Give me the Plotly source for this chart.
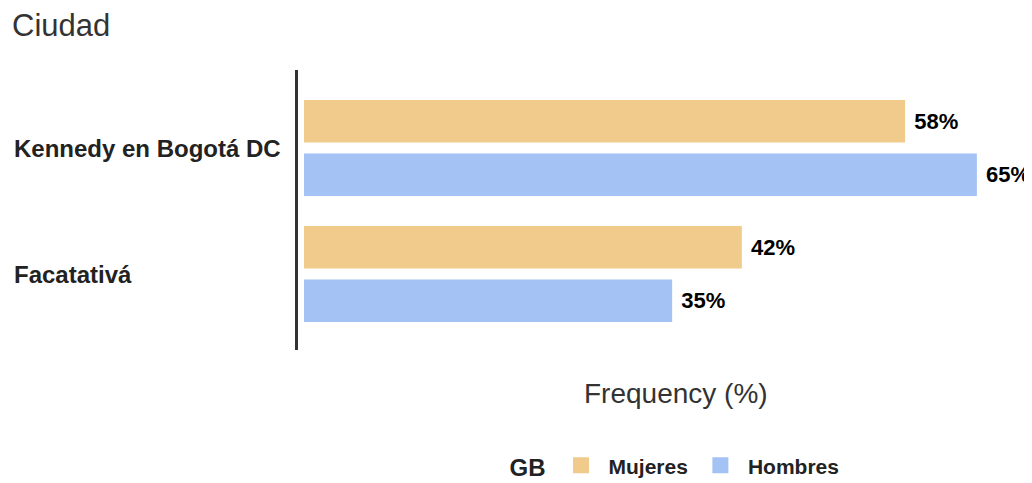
import plotly.graph_objects as go

# ---- data ----
categories = ["Kennedy en Bogotá DC", "Facatativá"]
mujeres = [57.8, 42.1]
hombres = [64.7, 35.4]
series_names = ["Mujeres", "Hombres"]
series_colors = ["#F0CB8C", "#A4C2F4"]
title_text = "Ciudad"
x_title = "Frequency (%)"
legend_title = "GB"

FONT = "Arial, Liberation Sans, sans-serif"

fig = go.Figure()
for name, vals, col in zip(series_names, [mujeres, hombres], series_colors):
    fig.add_trace(go.Bar(
        y=categories, x=vals, name=name, orientation="h",
        marker=dict(color=col, line=dict(width=0)),
        texttemplate=" %{x:.0f}%", textposition="outside",
        textfont=dict(family=FONT, size=22, color="#000", weight="bold"),
        cliponaxis=False, showlegend=False,
    ))
    # legend proxy with square swatch
    fig.add_trace(go.Scatter(
        x=[None], y=[None], mode="markers", name=name,
        marker=dict(symbol="square", size=30, color=col),
        showlegend=True,
    ))

for c in categories:
    fig.add_annotation(
        x=-0.3896, xref="paper", y=c, yref="y", text=c, showarrow=False,
        xanchor="left", yanchor="middle",
        font=dict(family=FONT, size=24, color="#222", weight="bold"),
    )

fig.add_annotation(
    x=0.515, xref="paper", y=-0.157, yref="paper", text=x_title, showarrow=False,
    xanchor="center", yanchor="middle",
    font=dict(family=FONT, size=28, color="#333"),
)

fig.update_layout(
    width=1024, height=475,
    margin=dict(l=290, r=0, t=62, b=133, autoexpand=False),
    paper_bgcolor="white", plot_bgcolor="white",
    barmode="group", bargap=0.15, bargroupgap=0.206,
    title=dict(text=title_text, x=0.004, xanchor="left", xref="container",
               y=0.964, yanchor="middle",
               font=dict(family=FONT, size=31, color="#333")),
    xaxis=dict(range=[-0.577, 70.0], showticklabels=False, showgrid=False,
               zeroline=False, showline=False, ticks=""),
    yaxis=dict(categoryorder="array", categoryarray=categories,
               range=[1.603, -0.619], showticklabels=False, showgrid=False,
               zeroline=False, showline=True, linecolor="#333", linewidth=3,
               ticks=""),
    legend=dict(orientation="h", x=0.515, xanchor="center", y=-0.415,
                yanchor="middle",
                title=dict(text=legend_title, side="left",
                           font=dict(family=FONT, size=24, color="#222")),
                font=dict(family=FONT, size=21, color="#222", weight="bold"),
                itemwidth=45),
)

fig.write_html("out.html")
